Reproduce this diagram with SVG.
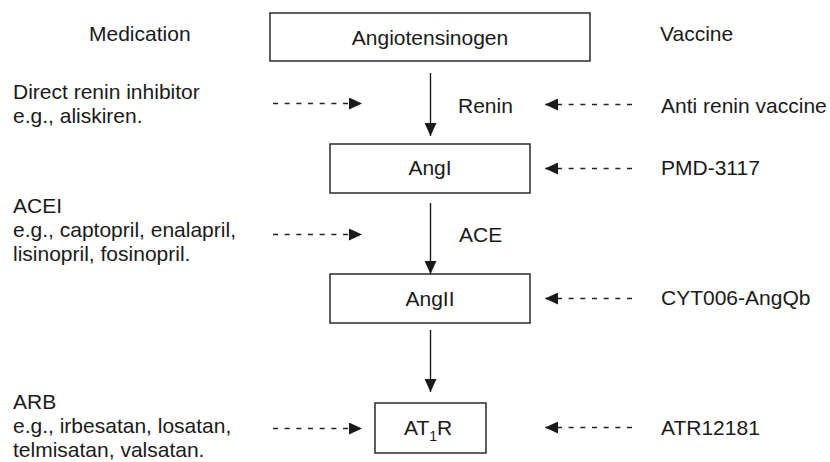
<svg xmlns="http://www.w3.org/2000/svg" width="830" height="462" viewBox="0 0 830 462">
<style>
text{font-family:"Liberation Sans",Arial,sans-serif;font-size:21px;fill:#1a1a1a}
.box{fill:#fff;stroke:#2a2a2a;stroke-width:1.5}
.solid{stroke:#1a1a1a;stroke-width:1.4;fill:none}
.dash{stroke:#222;stroke-width:1.6;fill:none;stroke-dasharray:5 6.67}
.c{text-anchor:middle}
</style>
<defs>
<marker id="ah" viewBox="0 0 13 12" refX="13" refY="6" markerWidth="13" markerHeight="12" markerUnits="userSpaceOnUse" orient="auto">
<path d="M0,0 L13,6 L0,12 z" fill="#1a1a1a"/>
</marker>
</defs>
<rect width="830" height="462" fill="#fff"/>

<g id="headers">
<text x="89" y="41">Medication</text>
<text x="660" y="41">Vaccine</text>
</g>

<g id="angiotensinogen">
<rect class="box" x="270" y="13" width="320" height="48"/>
<text class="c" x="430" y="44.5">Angiotensinogen</text>
</g>
<g id="angI">
<rect class="box" x="330" y="144" width="200" height="49"/>
<text class="c" x="430" y="174.5">AngI</text>
</g>
<g id="angII">
<rect class="box" x="330" y="274" width="200" height="49"/>
<text class="c" x="430" y="305.5">AngII</text>
</g>
<g id="at1r">
<rect class="box" x="375" y="403" width="111" height="50"/>
<text x="404" y="435">AT<tspan font-size="14" dy="6">1</tspan><tspan dy="-6">R</tspan></text>
</g>

<g id="enzymes">
<text x="458" y="113">Renin</text>
<text x="459" y="242">ACE</text>
</g>

<g id="medications">
<text x="13" y="99">Direct renin inhibitor</text>
<text x="13" y="123">e.g., aliskiren.</text>
<text x="13" y="213">ACEI</text>
<text x="13" y="237">e.g., captopril, enalapril,</text>
<text x="13" y="261">lisinopril, fosinopril.</text>
<text x="13" y="409">ARB</text>
<text x="13" y="433">e.g., irbesatan, losatan,</text>
<text x="13" y="457">telmisatan, valsatan.</text>
</g>

<g id="vaccines">
<text x="661" y="113">Anti renin vaccine</text>
<text x="661" y="175">PMD-3117</text>
<text x="661" y="305">CYT006-AngQb</text>
<text x="661" y="435">ATR12181</text>
</g>

<g id="connectors">
<line class="solid" x1="430.5" y1="73" x2="430.5" y2="136" marker-end="url(#ah)"/>
<line class="solid" x1="430.5" y1="203" x2="430.5" y2="274" marker-end="url(#ah)"/>
<line class="solid" x1="430.5" y1="330" x2="430.5" y2="392" marker-end="url(#ah)"/>

<line class="dash" x1="273" y1="103.5" x2="362" y2="103.5" marker-end="url(#ah)"/>
<line class="dash" x1="273" y1="234.5" x2="362" y2="234.5" marker-end="url(#ah)"/>
<line class="dash" x1="273" y1="428.5" x2="362" y2="428.5" marker-end="url(#ah)"/>

<line class="dash" x1="632" y1="104.5" x2="545" y2="104.5" marker-end="url(#ah)"/>
<line class="dash" x1="632" y1="168.5" x2="545" y2="168.5" marker-end="url(#ah)"/>
<line class="dash" x1="632" y1="298.5" x2="545" y2="298.5" marker-end="url(#ah)"/>
<line class="dash" x1="632" y1="427.5" x2="545" y2="427.5" marker-end="url(#ah)"/>
</g>
</svg>
